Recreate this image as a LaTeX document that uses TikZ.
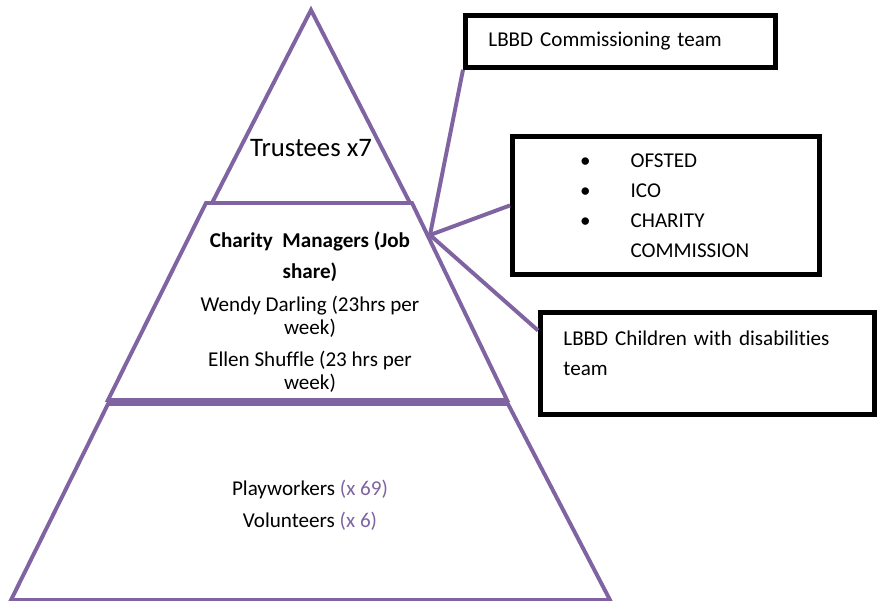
\documentclass[tikz,border=0pt]{standalone}
\usepackage{fontspec}
\setmainfont{Carlito}[Ligatures=NoCommon]
\usetikzlibrary{positioning}
\definecolor{plum}{HTML}{8064A2}
\tikzset{
  tier/.style={draw=plum,line width=2.8pt,line join=miter},
  link/.style={draw=plum,line width=2.8pt},
  orgbox/.style={draw=black,line width=3.4pt,rectangle,anchor=north west,
    align=left,font=\fontsize{15}{21.3}\selectfont},
  label/.style={align=center,font=\fontsize{15}{16.4}\selectfont},
}
\newcommand{\bul}{\makebox[36pt][l]{\textbullet}}

\begin{document}
\begin{tikzpicture}[x=0.025cm,y=-0.025cm]
  \useasboundingbox (0,0) rectangle (880,600);
  % pyramid
  \draw[tier] (311,10) -- (410,203) -- (212,203) -- cycle;
  \draw[tier] (206,203) -- (412,203) -- (507,400) -- (108,400) -- cycle;
  \draw[tier] (108,404) -- (508,404) -- (610,600) -- (11,600) -- cycle;
  \coordinate (hub) at (430,235);
  \node[font=\fontsize{19}{22}\selectfont] (trust) at (311,148) {Trustees x7};
  \node[label] (mgr) at (310,312) {\textbf{Charity\ \ Managers (Job}\\[6pt]
    \textbf{share)}\\[7pt]
    Wendy Darling (23hrs per\\ week)\\[6.5pt]
    Ellen Shuffle (23 hrs per\\ week)};
  \node[label] (staff) at (310,505) {Playworkers \textcolor{plum}{(x 69)}\\[6.5pt]
    Volunteers \textcolor{plum}{(x 6)}};
  % outside bodies
  \node[orgbox,minimum width=7.75cm,minimum height=1.3cm,inner xsep=0.55cm,
    text width=6.6cm] (comm) at (463,13) {LBBD Commissioning team};
  \node[orgbox,minimum width=7.68cm,minimum height=3.45cm,inner xsep=1.65cm,
    text width=4.3cm] (ofsted) at (510,134)
    {\bul OFSTED\\ \bul ICO\\ \bul CHARITY\\ \hspace*{36pt}COMMISSION};
  \node[orgbox,minimum width=8.35cm,minimum height=2.55cm,inner xsep=0.55cm,
    text width=7.2cm,text depth=36pt] (child) at (538,310)
    {LBBD Children with disabilities\\ team};
  \path[link] (hub) edge (comm.south west)
              (hub) edge (ofsted.west)
              (hub) edge (child.169);
\end{tikzpicture}
\end{document}
